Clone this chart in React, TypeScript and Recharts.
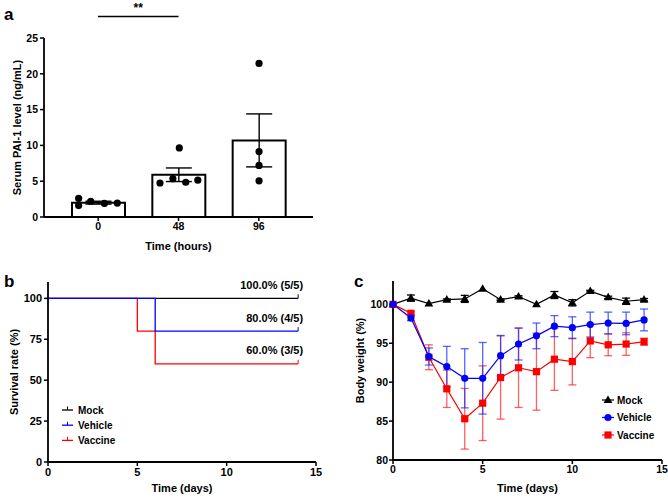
import React from "react";
import {
  ComposedChart, LineChart, Line, Bar, Scatter, XAxis, YAxis,
  ErrorBar, ReferenceLine, Label, LabelList,
} from "recharts";

const FONT = '"Liberation Sans", Arial, Helvetica, sans-serif';

// ---- panel a: serum PAI-1
const pai1Times = ["0", "48", "96"];
const pai1Mean = [2.0, 5.9, 10.7];
const pai1Sem = [0.2, 0.95, 3.7];
const pai1Points = [
  [2.6, 1.6, 2.2, 1.9, 1.95],
  [4.75, 5.35, 9.65, 4.85, 5.15],
  [21.45, 9.15, 7.2, 5.05],
];
const pai1Jitter = [
  [-0.24, -0.24, -0.09, 0.08, 0.24],
  [-0.23, -0.07, 0.01, 0.09, 0.24],
  [0, 0, 0, 0],
];
const pai1Ticks = [0, 5, 10, 15, 20, 25];
const sigPair = [0, 1];
const sigLevel = 28;
const sigText = "**";

// ---- panel b: survival
const survDays = [0, 5, 6, 14];
const survMock = [100, 100, 100, 100];
const survVehicle = [100, 100, 80, 80];
const survVaccine = [100, 80, 60, 60];
const groupSize = 5;
const survTicks = [0, 25, 50, 75, 100];
const dayTicks = [0, 5, 10, 15];

// ---- panel c: body weight
const wtDays = [0, 1, 2, 3, 4, 5, 6, 7, 8, 9, 10, 11, 12, 13, 14];
const mockWt = [100, 100.8, 100.1, 100.6, 100.7, 102.0, 100.6, 101.0, 100.0, 101.2, 100.2, 101.7, 100.9, 100.4, 100.6];
const mockErr = [0, 0.4, 0, 0.1, 0.45, 0, 0.1, 0.1, 0, 0.45, 0.4, 0.1, 0.15, 0.4, 0.15];
const vehicleWt = [100, 98.25, 93.3, 92.0, 90.5, 90.5, 93.4, 94.9, 95.95, 97.2, 97.0, 97.4, 97.6, 97.55, 98.0];
const vehicleErr = [0, 0.35, 1.1, 2.6, 3.8, 4.6, 2.6, 2.05, 1.65, 1.35, 1.4, 1.6, 1.4, 1.45, 1.4];
const vaccineWt = [100, 98.85, 93.2, 89.15, 85.3, 87.3, 90.6, 91.85, 91.35, 92.95, 92.65, 95.3, 94.8, 94.9, 95.2];
const vaccineErr = [0, 0.2, 1.6, 2.4, 3.9, 4.8, 5.35, 5.1, 4.95, 4.0, 3.0, 2.15, 1.4, 1.45, 0.45];
const wtTicks = [80, 85, 90, 95, 100];

const groups = [
  { key: "mock", name: "Mock", color: "#000000", err: "#000000", marker: "triangle" },
  { key: "vehicle", name: "Vehicle", color: "#0000ff", err: "rgba(30,50,255,0.75)", marker: "circle" },
  { key: "vaccine", name: "Vaccine", color: "#ff0000", err: "rgba(255,20,20,0.68)", marker: "square" },
];

const barData = pai1Times.map((t, i) => ({ time: t, mean: pai1Mean[i], sem: pai1Sem[i] }));
const pointData = pai1Points.flatMap((vals, g) => vals.map((v, j) => ({ x: g + pai1Jitter[g][j], y: v })));
const survData = survDays.map((d, i) => ({ day: d, mock: survMock[i], vehicle: survVehicle[i], vaccine: survVaccine[i] }));
const wtData = wtDays.map((d, i) => ({
  day: d,
  mock: mockWt[i], mockErr: mockErr[i],
  vehicle: vehicleWt[i], vehicleErr: vehicleErr[i],
  vaccine: vaccineWt[i], vaccineErr: vaccineErr[i],
}));

const axisLine = { stroke: "#000", strokeWidth: 1.8 };
const tickLine = { stroke: "#000", strokeWidth: 1.5 };
const tick = (size: number) => ({ fontSize: size, fontWeight: 700, fill: "#000", fontFamily: FONT });
const titleStyle = { fontSize: 11, fontWeight: 700, fill: "#000", fontFamily: FONT };

function yTitle(text: string, x: number, shift = 0) {
  return {
    content: (p: any) => {
      const vb = p.viewBox;
      const cx = vb.x + x;
      const cy = vb.y + vb.height / 2 + shift;
      return (
        <text x={cx} y={cy} transform={`rotate(-90 ${cx} ${cy})`} textAnchor="middle"
          dominantBaseline="central" style={titleStyle}>{text}</text>
      );
    },
  };
}

function marker(kind: string, cx: number, cy: number, color: string, key?: any) {
  if (kind === "triangle") {
    return <path key={key} d={`M${cx},${cy - 4.6}L${cx + 4.4},${cy + 3}L${cx - 4.4},${cy + 3}Z`} fill={color} />;
  }
  if (kind === "square") {
    return <rect key={key} x={cx - 3.6} y={cy - 3.6} width={7.2} height={7.2} fill={color} />;
  }
  return <circle key={key} cx={cx} cy={cy} r={3.6} fill={color} />;
}

function PanelLetter({ ch, left, top }: { ch: string; left: number; top: number }) {
  return (
    <div style={{ position: "absolute", left, top, fontSize: 17, lineHeight: "17px", fontWeight: 700, fontFamily: FONT }}>{ch}</div>
  );
}

function PanelA() {
  return (
    <ComposedChart width={330} height={256} data={barData} margin={{ top: 38, right: 17, left: 0, bottom: 0 }}>
      <XAxis xAxisId="cat" dataKey="time" type="category" padding={{ left: 14, right: 14 }} height={39}
        axisLine={axisLine} tickLine={tickLine} tickSize={4} tick={tick(10.5)} interval={0}>
        <Label value="Time (hours)" position="insideBottom" offset={6} style={titleStyle} />
      </XAxis>
      <XAxis xAxisId="num" dataKey="x" type="number" domain={[-0.67, 2.67]} hide allowDataOverflow />
      <YAxis width={44} type="number" domain={[0, 25]} ticks={pai1Ticks} interval={0}
        axisLine={axisLine} tickLine={tickLine} tickSize={4} tickMargin={2} tick={tick(10.5)}
        label={yTitle("Serum PAI-1 level (ng/mL)", 17)} />
      <Bar xAxisId="cat" dataKey="mean" barSize={53} fill="#fff" stroke="#000" strokeWidth={2} isAnimationActive={false}>
        <ErrorBar dataKey="sem" direction="y" width={13} stroke="#000" strokeWidth={1.4} />
      </Bar>
      <Scatter xAxisId="num" data={pointData} dataKey="y" isAnimationActive={false}
        shape={(p: any) => <circle cx={p.cx} cy={p.cy} r={3.6} fill="#000" />} />
      <ReferenceLine xAxisId="num" ifOverflow="visible" stroke="#000" strokeWidth={1.5}
        segment={[{ x: sigPair[0], y: sigLevel }, { x: sigPair[1], y: sigLevel }]}>
        <Label value={sigText} position="top" offset={5} style={{ ...titleStyle, fontSize: 12 }} />
      </ReferenceLine>
    </ComposedChart>
  );
}

function censorDot(color: string, last: number) {
  return (p: any) => {
    if (p.index !== last) return <g key={p.key ?? p.index} />;
    return <line key={p.key ?? p.index} x1={p.cx} x2={p.cx} y1={p.cy} y2={p.cy - 4} stroke={color} strokeWidth={1} />;
  };
}

function noteLabel(last: number) {
  return (p: any) => {
    if (p.index !== last) return null;
    const alive = Math.round((p.value / 100) * groupSize);
    return (
      <text x={p.x + 5} y={p.y - 9.5} textAnchor="end" style={titleStyle}>
        {`${Number(p.value).toFixed(1)}% (${alive}/${groupSize})`}
      </text>
    );
  };
}

function PanelB() {
  const last = survDays.length - 1;
  const order = [groups[0], groups[2], groups[1]];
  return (
    <LineChart width={330} height={253} data={survData} margin={{ top: 32, right: 14, left: 0, bottom: 0 }}>
      <XAxis dataKey="day" type="number" domain={[0, 15]} ticks={dayTicks} interval={0} height={41}
        axisLine={axisLine} tickLine={tickLine} tickSize={4} tick={tick(11)}>
        <Label value="Time (days)" position="insideBottom" offset={11} style={titleStyle} />
      </XAxis>
      <YAxis width={48} type="number" domain={[0, 110]} ticks={survTicks} interval={0}
        axisLine={axisLine} tickLine={tickLine} tickSize={4} tickMargin={2} tick={tick(11)}
        label={yTitle("Survival rate (%)", 14)} />
      {order.map((g) => (
        <Line key={g.key} type="stepAfter" dataKey={g.key} stroke={g.color} strokeWidth={1.3}
          dot={censorDot(g.color, last)} activeDot={false} isAnimationActive={false}>
          <LabelList dataKey={g.key} content={noteLabel(last)} />
        </Line>
      ))}
    </LineChart>
  );
}

function PanelC() {
  const order = [groups[0], groups[2], groups[1]];
  return (
    <LineChart width={338} height={253} data={wtData} margin={{ top: 31, right: 6, left: 0, bottom: 0 }}>
      <XAxis dataKey="day" type="number" domain={[0, 15]} ticks={dayTicks} interval={0} height={43}
        axisLine={axisLine} tickLine={tickLine} tickSize={4} tick={tick(10.5)}>
        <Label value="Time (days)" position="insideBottom" offset={11} style={titleStyle} />
      </XAxis>
      <YAxis width={63} type="number" domain={[80, 103]} ticks={wtTicks} interval={0}
        axisLine={axisLine} tickLine={tickLine} tickSize={4} tickMargin={1} tick={tick(10.5)}
        label={yTitle("Body weight (%)", 30, -10)} />
      {order.map((g) => (
        <Line key={g.key} type="linear" dataKey={g.key} stroke={g.color} strokeWidth={1.2}
          dot={(p: any) => marker(g.marker, p.cx, p.cy, g.color, p.key ?? p.index)}
          activeDot={false} isAnimationActive={false}>
          <ErrorBar dataKey={`${g.key}Err`} direction="y" width={4} stroke={g.err} strokeWidth={1.3} />
        </Line>
      ))}
    </LineChart>
  );
}

function LegendB() {
  return (
    <svg width={80} height={50} style={{ position: "absolute", left: 58, top: 400 }}>
      {groups.map((g, i) => (
        <g key={g.key} transform={`translate(0 ${10 + i * 15.2})`}>
          <line x1={4} x2={15} y1={0} y2={0} stroke={g.color} strokeWidth={1.3} />
          <line x1={9.5} x2={9.5} y1={0} y2={-3.5} stroke={g.color} strokeWidth={1} />
          <text x={20} y={3.6} style={{ ...titleStyle, fontSize: 10 }}>{g.name}</text>
        </g>
      ))}
    </svg>
  );
}

function LegendC() {
  return (
    <svg width={70} height={56} style={{ position: "absolute", left: 598, top: 390 }}>
      {groups.map((g, i) => (
        <g key={g.key} transform={`translate(0 ${10 + i * 17.5})`}>
          <line x1={4} x2={16} y1={0} y2={0} stroke={g.color} strokeWidth={1.2} />
          {marker(g.marker, 10, 0, g.color)}
          <text x={19} y={3.6} style={{ ...titleStyle, fontSize: 10 }}>{g.name}</text>
        </g>
      ))}
    </svg>
  );
}

export default function App() {
  return (
    <div style={{ position: "absolute", left: 0, top: 0, width: 668, height: 503, background: "#fff", fontFamily: FONT, overflow: "hidden" }}>
      <div style={{ position: "absolute", left: 0, top: 0 }}><PanelA /></div>
      <div style={{ position: "absolute", left: 0, top: 250 }}><PanelB /></div>
      <div style={{ position: "absolute", left: 330, top: 250 }}><PanelC /></div>
      <LegendB />
      <LegendC />
      <PanelLetter ch="a" left={4} top={6} />
      <PanelLetter ch="b" left={4} top={273} />
      <PanelLetter ch="c" left={354} top={273} />
    </div>
  );
}
